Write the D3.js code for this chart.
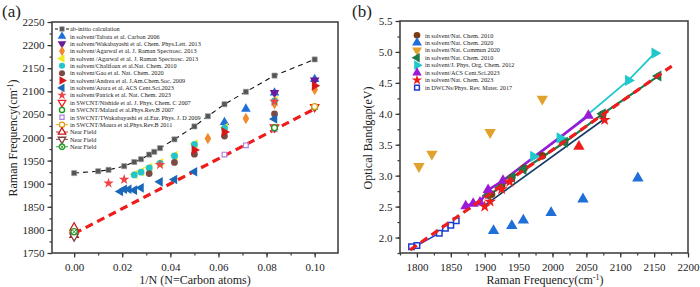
<!DOCTYPE html>
<html><head><meta charset="utf-8">
<script src="https://cdn.jsdelivr.net/npm/d3@7"></script>
<style>
body{margin:0;background:#fff;}
svg{display:block;font-family:"Liberation Serif","Times New Roman",serif;}
</style></head>
<body><svg id="c" width="700" height="287"></svg>
<script>
// ---------- Panel (a) data: [1/N, Raman frequency] ----------
const aXTicks = [0.00, 0.02, 0.04, 0.06, 0.08, 0.10];
const aYTicks = [1750, 1800, 1850, 1900, 1950, 2000, 2050, 2100, 2150, 2200, 2250];
const abInitio = [[0,1923],[0.01,1927],[0.0143,1930],[0.0208,1938],[0.025,1947],[0.0278,1953],[0.0312,1963],[0.0333,1969],[0.0357,1977],[0.0417,1996],[0.05,2024],[0.0556,2046],[0.0625,2072],[0.0714,2099],[0.0833,2134],[0.1,2169]];
const tabata = [[0.0625,2033],[0.0714,2062],[0.0833,2097],[0.1,2126]];
const wakabayashi = [[0.0833,2097],[0.1,2124]];
const agarwal = [[0.0556,1998],[0.0714,2041],[0.0833,2073],[0.1,2104]];
const agarwal2 = [[0.025,1920],[0.0278,1926],[0.0312,1935],[0.0357,1945],[0.0417,1961],[0.05,1986],[0.0625,2021],[0.0833,2080]];
const chalifoux = [[0.025,1919],[0.0278,1925],[0.0312,1934],[0.0357,1944],[0.0417,1960],[0.05,1985],[0.0625,2020],[0.0833,2079]];
const gao = [[0.0312,1922],[0.0417,1946],[0.05,1964],[0.0625,2003],[0.0833,2051]];
const andrea = [[0.05,1973],[0.0625,2012],[0.1,2112]];
const arora = [[0.0192,1883],[0.0208,1888],[0.0227,1888],[0.025,1886],[0.0278,1891],[0.0357,1904],[0.0417,1909],[0.05,1926],[0.0833,2040]];
const patrick = [[0.0143,1901],[0.0208,1909],[0.0357,1941],[0.0833,2078]];
const nishide = [[0,1790],[0.0833,2022],[0.1,2066]];
const malard = [[0,1795],[0.0833,2021],[0.1,2066]];
const twakabayashi = [[0.0625,1963],[0.0714,1983],[0.0833,2018],[0.1,2066]];
const moura = [[0.1,2067]];
const nearField1 = [[0,1805],[0,1789]];
const nearField2 = [[0,1786]];
const nearField3 = [[0,1796]];
const aFit = [[0,1792],[0.1,2062]];

// ---------- Panel (b) data: [Raman frequency, optical bandgap] ----------
const bXTicks = [1800, 1850, 1900, 1950, 2000, 2050, 2100, 2150, 2200];
const bYTicks = [2.0, 2.5, 3.0, 3.5, 4.0, 4.5, 5.0, 5.5];
const bNatChem2010 = [[1910,2.70],[1925,2.84],[1940,2.97],[1958,3.12],[1985,3.32],[2018,3.55],[2074,3.99]];
const bNatChem2020 = [[1913,2.11],[1940,2.19],[1957,2.28],[1998,2.40],[2045,2.62],[2126,2.96]];
const bNatCommun2020 = [[1803,3.15],[1822,3.35],[1908,3.70],[1985,4.24]];
const bNatChem2010b = [[1905,2.68],[1923,2.81],[1940,2.97],[1957,3.10],[2018,3.54],[2074,4.00],[2156,4.61]];
const bJPOC2012 = [[1972,3.31],[2011,3.61],[2112,4.54],[2151,4.98]];
const bACS2023 = [[1872,2.51],[1883,2.55],[1893,2.57],[1905,2.77],[1927,2.92],[2053,3.97]];
const bNatChem2023 = [[1900,2.50],[1908,2.58],[1925,2.78],[1937,2.90],[2077,3.90]];
const bRedTri = [[2039,3.47]];
const bDWCNT = [[1792,1.85],[1800,1.87],[1833,2.07],[1842,2.15],[1850,2.20],[1858,2.27]];
const bStarFit = [[1900,2.52],[2077,3.92]];
const bFit = [[1790,1.80],[2176,4.77]];

const svg = d3.select("#c");

function sym(g, type, x, y, size, fill, stroke, sw){
  let t, rot = 0;
  if(type==="up"){t=d3.symbolTriangle;}
  else if(type==="down"){t=d3.symbolTriangle;rot=180;}
  else if(type==="left"){t=d3.symbolTriangle;rot=-90;}
  else if(type==="right"){t=d3.symbolTriangle;rot=90;}
  else if(type==="square"){t=d3.symbolSquare;}
  else if(type==="diamond"){t=d3.symbolDiamond;}
  else if(type==="star"){t=d3.symbolStar;}
  else {t=d3.symbolCircle;}
  const p = g.append("path").attr("d", d3.symbol().type(t).size(size)())
    .attr("transform", `translate(${x},${y}) rotate(${rot})`)
    .attr("fill", fill).attr("stroke", stroke||"none").attr("stroke-width", sw||0);
  if(type==="xcircle"){
    const r = Math.sqrt(size/Math.PI)*0.7;
    g.append("path").attr("d",`M${x-r},${y-r}L${x+r},${y+r}M${x-r},${y+r}L${x+r},${y-r}`)
      .attr("stroke", stroke).attr("stroke-width", 1);
  }
  return p;
}

function frame(g, x, y, xTicks, yTicks, xMinorStep, yMinorStep, xFmt, yFmt){
  const [x0,x1] = x.range(), [y0,y1] = y.range();
  const xd = x.domain(), yd = y.domain();
  const xMin = d3.range(Math.ceil(xd[0]/xMinorStep-1e-9)*xMinorStep, xd[1]+1e-9, xMinorStep);
  const yMin = d3.range(Math.ceil(yd[0]/yMinorStep-1e-9)*yMinorStep, yd[1]+1e-9, yMinorStep);
  const ax = g.append("g").attr("transform",`translate(0,${y0})`)
    .call(d3.axisBottom(x).tickValues(xMin).tickSize(2.5).tickFormat(""));
  ax.select(".domain").remove();
  const ax2 = g.append("g").attr("transform",`translate(0,${y0})`)
    .call(d3.axisBottom(x).tickValues(xTicks).tickSize(4.5).tickPadding(6).tickFormat(xFmt));
  ax2.select(".domain").remove();
  const ay = g.append("g").attr("transform",`translate(${x0},0)`)
    .call(d3.axisLeft(y).tickValues(yMin).tickSize(2.5).tickFormat(""));
  ay.select(".domain").remove();
  const ay2 = g.append("g").attr("transform",`translate(${x0},0)`)
    .call(d3.axisLeft(y).tickValues(yTicks).tickSize(4.5).tickPadding(3).tickFormat(yFmt));
  ay2.select(".domain").remove();
  g.selectAll(".tick line").attr("stroke","#333").attr("stroke-width",1.2);
  g.selectAll(".tick text").attr("font-family","Liberation Serif").attr("font-size",11).attr("fill","#222");
  g.append("rect").attr("x",x0).attr("y",y1).attr("width",x1-x0).attr("height",y0-y1)
    .attr("fill","none").attr("stroke","#444").attr("stroke-width",1.6);
}

// ================= Panel (a) =================
const ga = svg.append("g");
const xa = d3.scaleLinear().domain([-0.0092, 0.1097]).range([52, 338]);
const ya = d3.scaleLinear().domain([1750, 2250]).range([253, 22]);
frame(ga, xa, ya, aXTicks, aYTicks, 0.01, 25, d3.format(".2f"), d3.format("d"));

const lineA = d3.line().x(d=>xa(d[0])).y(d=>ya(d[1]));
ga.append("path").datum(aFit).attr("d",lineA).attr("stroke","#f01c1c").attr("stroke-width",3.2)
  .attr("stroke-dasharray","8,5").attr("fill","none");
ga.append("path").datum(abInitio).attr("d",lineA).attr("stroke","#111").attr("stroke-width",1.1)
  .attr("stroke-dasharray","5,4").attr("fill","none");

const aSeries = [
  {name:"ab-initio calculation", data:abInitio, type:"square", size:26, fill:"#555", stroke:"#999", sw:0.6, line:"dash"},
  {name:"in solvent/Tabata et al. Carbon 2006", data:tabata, type:"up", size:40, fill:"#1f6fd8"},
  {name:"in solvent/Wakabayashi et al.  Chem. Phys.Lett. 2013", data:wakabayashi, type:"down", size:40, fill:"#6a1a9a"},
  {name:"in solvent/Agarwal et al. J. Raman Spectrosc. 2013", data:agarwal, type:"diamond", size:38, fill:"#f08a2c"},
  {name:"in solvent /Agarwal et al. J. Raman Spectrosc. 2013", data:agarwal2, type:"left", size:40, fill:"#f2ea1c", dx:0.0008},
  {name:"in solvent/Chalifoux et al.Nat. Chem. 2010", data:chalifoux, type:"circle", size:36, fill:"#22c5cc"},
  {name:"in solvent/Gao et al. Nat. Chem. 2020", data:gao, type:"circle", size:36, fill:"#7b4a44"},
  {name:"in solvent/Andrea et al. J.Am.Chem.Soc. 2009", data:andrea, type:"right", size:40, fill:"#d81818"},
  {name:"in solvent/Arora et al. ACS Cent.Sci.2023", data:arora, type:"left", size:40, fill:"#1c68b8"},
  {name:"in solvent/Patrick et al. Nat. Chem. 2023", data:patrick, type:"star", size:34, fill:"#ee4444"},
  {name:"in SWCNT/Nishide et al. J. Phys. Chem. C 2007", data:nishide, type:"down", size:30, fill:"#fff", stroke:"#f02020", sw:1.3},
  {name:"in SWCNT/Malard et al.Phys.Rev.B 2007", data:malard, type:"circle", size:26, fill:"#fff", stroke:"#1a9a1a", sw:1.4},
  {name:"in SWCNT/TWakabayashi et al.Eur. Phys. J. D 2009", data:twakabayashi, type:"square", size:22, fill:"#fff", stroke:"#b07de0", sw:1.2},
  {name:"in SWCNT/Moura et al.Phys.Rev.B 2011", data:moura, type:"circle", size:26, fill:"#fff", stroke:"#e0a010", sw:1.3, line:"solid"},
  {name:"Near Field", data:nearField1, type:"up", size:30, fill:"#fff", stroke:"#c01818", sw:1.3, line:"solid"},
  {name:"Near Field", data:nearField2, type:"down", size:30, fill:"#fff", stroke:"#804040", sw:1.3, line:"solid"},
  {name:"Near Field", data:nearField3, type:"xcircle", size:30, fill:"#fff", stroke:"#2a9a2a", sw:1.3, line:"solid"}
];
const drawOrderA = [12,10,11,13,14,15,16,1,2,3,4,5,6,7,8,9,0];
drawOrderA.forEach(i=>{
  const s = aSeries[i];
  s.data.forEach(d=>sym(ga, s.type, xa(d[0])+(s.dx?0.5:0), ya(d[1]), s.size, s.fill, s.stroke, s.sw));
});
// legend (a)
aSeries.forEach((s,i)=>{
  const ly = 29 + i*7.36;
  if(s.line==="dash"){
    ga.append("line").attr("x1",55).attr("x2",69).attr("y1",ly).attr("y2",ly).attr("stroke","#111").attr("stroke-width",1.1).attr("stroke-dasharray","3,2.5");
  } else if(s.line==="solid"){
    ga.append("line").attr("x1",56).attr("x2",68).attr("y1",ly).attr("y2",ly).attr("stroke",s.stroke).attr("stroke-width",0.9);
  }
  sym(ga, s.type, 62, ly, s.size*0.8, s.fill, s.stroke, s.sw);
  ga.append("text").attr("x",70).attr("y",ly+2.2).attr("font-size",6.2).attr("fill","#222").text(s.name);
});
ga.append("text").attr("x",195).attr("y",284).attr("text-anchor","middle").attr("font-size",12).attr("fill","#222")
  .text("1/N (N=Carbon atoms)");
const ta = ga.append("text").attr("transform","translate(17,138) rotate(-90)").attr("text-anchor","middle").attr("font-size",12).attr("fill","#222");
ta.append("tspan").text("Raman Frequency(cm");
ta.append("tspan").attr("dy",-4).attr("font-size",8).text("-1");
ta.append("tspan").attr("dy",4).text(")");
ga.append("text").attr("x",2).attr("y",17).attr("font-size",17).attr("fill","#222").text("(a)");

// ================= Panel (b) =================
const gb = svg.append("g");
const xb = d3.scaleLinear().domain([1775, 2200]).range([400, 688]);
const yb = d3.scaleLinear().domain([1.75, 5.5]).range([253, 21]);
frame(gb, xb, yb, bXTicks, bYTicks, 25, 0.25, d3.format("d"), d3.format(".1f"));

const lineB = d3.line().x(d=>xb(d[0])).y(d=>yb(d[1]));
gb.append("path").datum(bDWCNT).attr("d",lineB).attr("stroke","#1a3cd0").attr("stroke-width",1.6).attr("fill","none");
gb.append("path").datum(bStarFit).attr("d",lineB).attr("stroke","#123a66").attr("stroke-width",1.6).attr("fill","none");
gb.append("path").datum(bJPOC2012).attr("d",lineB).attr("stroke","#1ec8cc").attr("stroke-width",1.8).attr("fill","none");
gb.append("path").datum(bACS2023).attr("d",lineB).attr("stroke","#9a1ad8").attr("stroke-width",2.6).attr("fill","none");
gb.append("path").datum(bNatChem2010b).attr("d",lineB).attr("stroke","#1a7a4a").attr("stroke-width",2.2).attr("fill","none");

const bSeries = [
  {name:"in solvent/Nat. Chem. 2010", data:bNatChem2010, type:"circle", size:46, fill:"#7a3a12"},
  {name:"in solvent/Nat. Chem. 2020", data:bNatChem2020, type:"up", size:56, fill:"#1f6fd8"},
  {name:"in solvent/Nat. Commun 2020", data:bNatCommun2020, type:"down", size:56, fill:"#e0a22c"},
  {name:"in solvent/Nat. Chem. 2010", data:bNatChem2010b, type:"left", size:52, fill:"#1a7a4a", line:"#1a7a4a"},
  {name:"in solvent/J. Phys. Org. Chem. 2012", data:bJPOC2012, type:"right", size:56, fill:"#1ec8cc", line:"#1ec8cc"},
  {name:"in solvent/ACS Cent.Sci.2023", data:bACS2023, type:"up", size:52, fill:"#9a1ad8", line:"#9a1ad8"},
  {name:"in solvent/Nat. Chem. 2023", data:bNatChem2023, type:"star", size:44, fill:"#f01c1c"},
  {name:"in DWCNs/Phys. Rev. Mater. 2017", data:bDWCNT, type:"square", size:30, fill:"#fff", stroke:"#1a3cd0", sw:1.5, line:"#1a3cd0"}
];
[0,3,5,4,6,1,2,7].forEach(i=>{
  const s = bSeries[i];
  s.data.forEach(d=>sym(gb, s.type, xb(d[0]), yb(d[1]), s.size, s.fill, s.stroke, s.sw));
});
bRedTri.forEach(d=>sym(gb,"up",xb(d[0]),yb(d[1]),56,"#f01c1c"));
gb.append("path").datum(bFit).attr("d",lineB).attr("stroke","#f01c1c").attr("stroke-width",3.2)
  .attr("stroke-dasharray","8,5").attr("fill","none");

bSeries.forEach((s,i)=>{
  const ly = 35.3 + i*7.47;
  sym(gb, s.type, 417, ly, s.size*0.75, s.fill, s.stroke, s.sw);
  gb.append("text").attr("x",425).attr("y",ly+2.2).attr("font-size",6.2).attr("fill","#222").text(s.name);
});
const tbx = gb.append("text").attr("x",545).attr("y",284).attr("text-anchor","middle").attr("font-size",12).attr("fill","#222");
tbx.append("tspan").text("Raman Frequency(cm");
tbx.append("tspan").attr("dy",-4).attr("font-size",8).text("-1");
tbx.append("tspan").attr("dy",4).text(")");
gb.append("text").attr("transform","translate(372,138) rotate(-90)").attr("text-anchor","middle").attr("font-size",12).attr("fill","#222")
  .text("Optical Bandgap(eV)");
gb.append("text").attr("x",352).attr("y",17).attr("font-size",17).attr("fill","#222").text("(b)");
</script></body></html>
